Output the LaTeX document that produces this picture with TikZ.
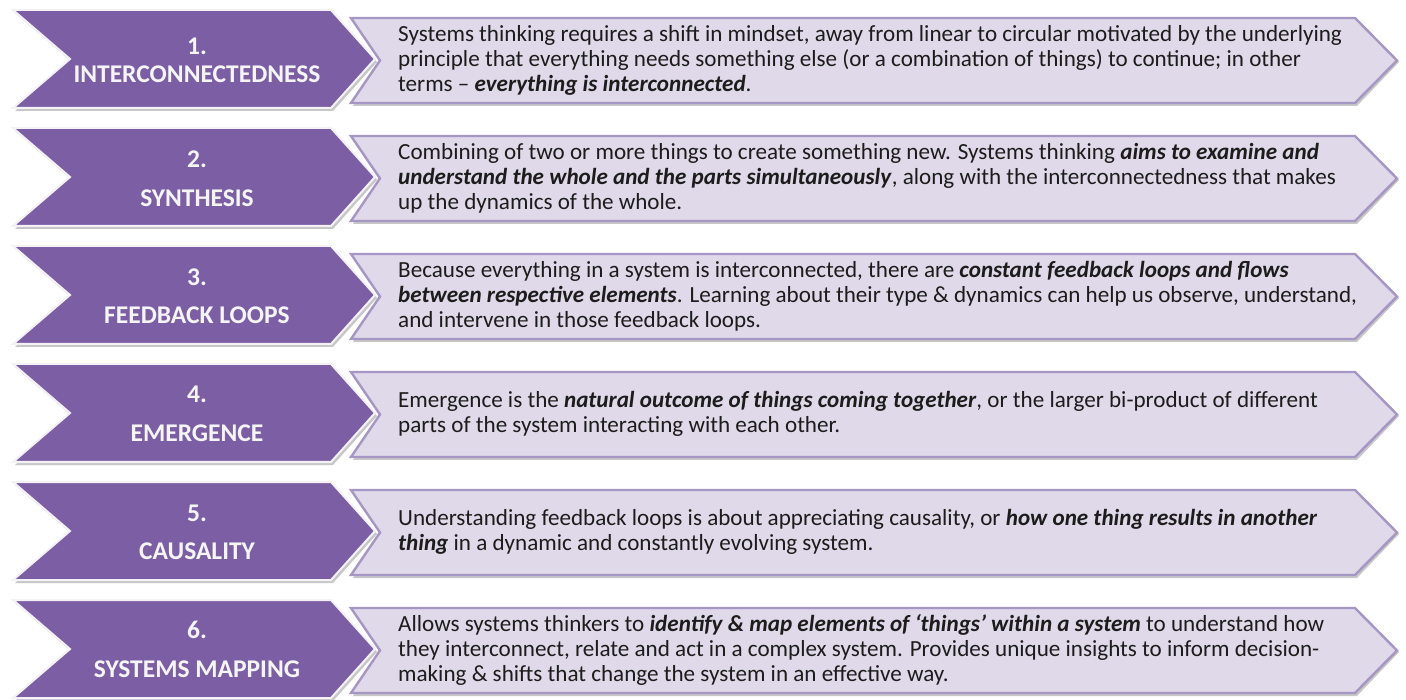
\documentclass[tikz,border=0pt]{standalone}
\usepackage{fontspec}
\setmainfont{Carlito}
\definecolor{chev}{HTML}{7C5EA5}
\definecolor{chevedge}{HTML}{F4F2F6}
\definecolor{panel}{HTML}{DFD9E9}
\definecolor{panelline}{HTML}{A696C4}
\definecolor{bodyink}{HTML}{1C1C1C}
\newcommand{\strongit}[1]{\textbf{\textit{#1}}}
\tikzset{
  heading/.style={text=white!96!black, font=\fontsize{25.5}{28}\selectfont\bfseries, inner sep=0pt},
  bodytext/.style={text=bodyink, font=\fontsize{23.1}{25}\selectfont, align=left, anchor=west, inner sep=0pt},
  shade/.style={fill=black!22},
  chevron/.style={fill=chev, draw=chevedge, line width=2pt, line join=miter},
  panelbox/.style={fill=panel, draw=panelline, line width=2.4pt, line join=miter}
}
\begin{document}
\begin{tikzpicture}[x=1pt,y=-1pt]
\useasboundingbox (0,0) rectangle (1406,700);
\fill[white] (0,0) rectangle (1406,700);
% six rows of chevron + text panel
\foreach \T in {10,128,246,364,482,600}{
  % soft shadows
  \fill[shade] (15,\T+3) -- (333,\T+3) -- (377,\T+52) -- (333,\T+101) -- (15,\T+101) -- (72,\T+52) -- cycle;
  \fill[shade] (353,\T+10) -- (1357,\T+10) -- (1399,\T+52) -- (1357,\T+96) -- (353,\T+96) -- (382,\T+52) -- cycle;
  % purple chevron
  \path[chevron] (13,\T) -- (331,\T) -- (375,\T+49) -- (331,\T+98) -- (13,\T+98) -- (70,\T+49) -- cycle;
  % light panel
  \path[panelbox] (351,\T+8) -- (1355,\T+8) -- (1397,\T+50.5) -- (1355,\T+93) -- (351,\T+93) -- (380,\T+50.5) -- cycle;
}
% headings
\node[heading] (n1) at (197,46) {1.};
\node[heading] (h1) at (197,74) {INTERCONNECTEDNESS};
\node[heading] (n2) at (197,159) {2.};
\node[heading] (h2) at (197,198) {SYNTHESIS};
\node[heading] (n3) at (197,277) {3.};
\node[heading] (h3) at (197,315) {FEEDBACK LOOPS};
\node[heading] (n4) at (197,394) {4.};
\node[heading] (h4) at (197,433) {EMERGENCE};
\node[heading] (n5) at (197,513) {5.};
\node[heading] (h5) at (197,551) {CAUSALITY};
\node[heading] (n6) at (197,630) {6.};
\node[heading] (h6) at (197,669) {SYSTEMS MAPPING};
% descriptions
\node[bodytext] (b1) at (398,60) {Systems thinking requires a shift in mindset, away from linear to circular motivated by the underlying\\
principle that everything needs something else (or a combination of things) to continue; in other\\
terms -- \strongit{everything is interconnected}.};
\node[bodytext] (b2) at (398,178) {Combining of two or more things to create something new. Systems thinking \strongit{aims to examine and}\\
\strongit{understand the whole and the parts simultaneously}, along with the interconnectedness that makes\\
up the dynamics of the whole.};
\node[bodytext] (b3) at (398,296) {Because everything in a system is interconnected, there are \strongit{constant feedback loops and flows}\\
\strongit{between respective elements}. Learning about their type \& dynamics can help us observe, understand,\\
and intervene in those feedback loops.};
\node[bodytext] (b4) at (398,414) {Emergence is the \strongit{natural outcome of things coming together}, or the larger bi-product of different\\
parts of the system interacting with each other.};
\node[bodytext] (b5) at (398,532) {Understanding feedback loops is about appreciating causality, or \strongit{how one thing results in another}\\
\strongit{thing} in a dynamic and constantly evolving system.};
\node[bodytext] (b6) at (398,650) {Allows systems thinkers to \strongit{identify \& map elements of ‘things’ within a system} to understand how\\
they interconnect, relate and act in a complex system. Provides unique insights to inform decision-\\
making \& shifts that change the system in an effective way.};
\end{tikzpicture}
\end{document}
